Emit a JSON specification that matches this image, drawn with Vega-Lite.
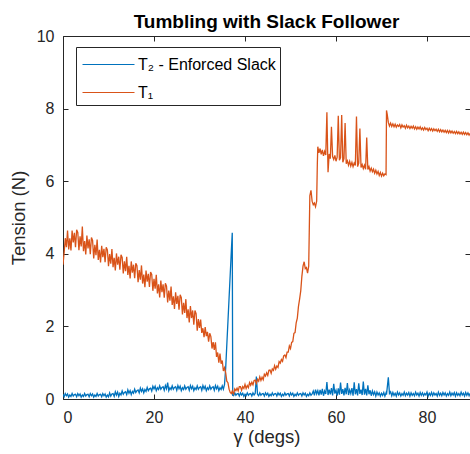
{
"$schema": "https://vega.github.io/schema/vega-lite/v6.json",
"width": 407,
"height": 363,
"autosize": {"type": "none"},
"padding": {"left": 63, "top": 36, "right": 0, "bottom": 55},
"background": "white",
"title": {"text": "Tumbling with Slack Follower", "fontSize": 19, "fontWeight": "bold", "color": "#000000", "font": "Liberation Sans", "anchor": "middle", "baseline": "bottom", "offset": -23, "frame": "group"},
"config": {
  "view": {"stroke": null},
  "font": "Liberation Sans",
  "axis": {"grid": false, "domainColor": "#262626", "tickColor": "#262626", "labelColor": "#262626", "titleColor": "#262626", "labelFontSize": 16, "titleFontSize": 18.5, "titleFontWeight": "normal", "tickSize": -5, "domainWidth": 1, "tickWidth": 1, "labelFont": "Liberation Sans", "titleFont": "Liberation Sans"}
},
"data": {"values": [
{"x":0,"b":0.13,"o":3.7},{"x":0.25,"b":0.06,"o":4.03},{"x":0.5,"b":0.15,"o":4.43},{"x":0.75,"b":0.09,"o":4.18},
{"x":1,"b":0.14,"o":4.64},{"x":1.25,"b":0.05,"o":4.12},{"x":1.5,"b":0.11,"o":4.43},{"x":1.75,"b":0.07,"o":4.09},
{"x":2,"b":0.15,"o":4.64},{"x":2.25,"b":0.08,"o":4.31},{"x":2.5,"b":0.12,"o":4.58},{"x":2.75,"b":0.13,"o":4.18},
{"x":3,"b":0.06,"o":4.66},{"x":3.25,"b":0.15,"o":4.59},{"x":3.5,"b":0.09,"o":4.1},{"x":3.75,"b":0.14,"o":4.48},
{"x":4,"b":0.05,"o":4.2},{"x":4.25,"b":0.11,"o":4.75},{"x":4.5,"b":0.07,"o":4.07},{"x":4.75,"b":0.15,"o":4.35},
{"x":5,"b":0.08,"o":3.98},{"x":5.25,"b":0.12,"o":4.5},{"x":5.5,"b":0.13,"o":4.15},{"x":5.75,"b":0.06,"o":4.4},
{"x":6,"b":0.15,"o":3.99},{"x":6.25,"b":0.09,"o":4.45},{"x":6.5,"b":0.14,"o":4.37},{"x":6.75,"b":0.05,"o":3.87},
{"x":7,"b":0.11,"o":4.25},{"x":7.25,"b":0.07,"o":3.96},{"x":7.5,"b":0.15,"o":4.39},{"x":7.75,"b":0.08,"o":3.83},
{"x":8,"b":0.12,"o":4.11},{"x":8.25,"b":0.13,"o":3.76},{"x":8.5,"b":0.06,"o":4.22},{"x":8.75,"b":0.15,"o":3.91},
{"x":9,"b":0.09,"o":4.14},{"x":9.25,"b":0.14,"o":3.77},{"x":9.5,"b":0.05,"o":4.18},{"x":9.75,"b":0.11,"o":4.11},
{"x":10,"b":0.06,"o":3.66},{"x":10.25,"b":0.17,"o":3.99},{"x":10.5,"b":0.08,"o":3.73},{"x":10.75,"b":0.14,"o":4.13},
{"x":11,"b":0.15,"o":3.63},{"x":11.25,"b":0.07,"o":3.89},{"x":11.5,"b":0.2,"o":3.54},{"x":11.75,"b":0.11,"o":4.01},
{"x":12,"b":0.19,"o":3.7},{"x":12.25,"b":0.07,"o":3.92},{"x":12.5,"b":0.16,"o":3.56},{"x":12.75,"b":0.11,"o":3.97},
{"x":13,"b":0.22,"o":3.9},{"x":13.25,"b":0.13,"o":3.46},{"x":13.5,"b":0.18,"o":3.79},{"x":13.75,"b":0.2,"o":3.52},
{"x":14,"b":0.12,"o":3.92},{"x":14.25,"b":0.25,"o":3.42},{"x":14.5,"b":0.16,"o":3.67},{"x":14.75,"b":0.23,"o":3.32},
{"x":15,"b":0.12,"o":3.79},{"x":15.25,"b":0.21,"o":3.48},{"x":15.5,"b":0.16,"o":3.7},{"x":15.75,"b":0.27,"o":3.33},
{"x":16,"b":0.18,"o":3.74},{"x":16.25,"b":0.23,"o":3.67},{"x":16.5,"b":0.25,"o":3.22},{"x":16.75,"b":0.17,"o":3.55},
{"x":17,"b":0.3,"o":3.29},{"x":17.25,"b":0.21,"o":3.68},{"x":17.5,"b":0.28,"o":3.18},{"x":17.75,"b":0.17,"o":3.43},
{"x":18,"b":0.26,"o":3.08},{"x":18.25,"b":0.21,"o":3.54},{"x":18.5,"b":0.32,"o":3.23},{"x":18.75,"b":0.23,"o":3.45},
{"x":19,"b":0.28,"o":3.09},{"x":19.25,"b":0.3,"o":3.5},{"x":19.5,"b":0.22,"o":3.43},{"x":19.75,"b":0.35,"o":2.98},
{"x":20,"b":0.28,"o":3.31},{"x":20.25,"b":0.35,"o":3.04},{"x":20.5,"b":0.23,"o":3.42},{"x":20.75,"b":0.31,"o":2.91},
{"x":21,"b":0.26,"o":3.16},{"x":21.25,"b":0.36,"o":2.8},{"x":21.5,"b":0.27,"o":3.26},{"x":21.75,"b":0.32,"o":2.94},
{"x":22,"b":0.34,"o":3.16},{"x":22.25,"b":0.24,"o":2.79},{"x":22.5,"b":0.37,"o":3.19},{"x":22.75,"b":0.28,"o":3.11},
{"x":23,"b":0.45,"o":2.66},{"x":23.25,"b":0.23,"o":2.99},{"x":23.5,"b":0.31,"o":2.71},{"x":23.75,"b":0.26,"o":3.1},
{"x":24,"b":0.36,"o":2.59},{"x":24.25,"b":0.27,"o":2.83},{"x":24.5,"b":0.32,"o":2.48},{"x":24.75,"b":0.34,"o":2.94},
{"x":25,"b":0.24,"o":2.62},{"x":25.25,"b":0.37,"o":2.84},{"x":25.5,"b":0.28,"o":2.46},{"x":25.75,"b":0.35,"o":2.87},
{"x":26,"b":0.23,"o":2.79},{"x":26.25,"b":0.31,"o":2.33},{"x":26.5,"b":0.26,"o":2.65},{"x":26.75,"b":0.36,"o":2.37},
{"x":27,"b":0.27,"o":2.75},{"x":27.25,"b":0.32,"o":2.23},{"x":27.5,"b":0.34,"o":2.47},{"x":27.75,"b":0.24,"o":2.11},
{"x":28,"b":0.37,"o":2.56},{"x":28.25,"b":0.28,"o":2.23},{"x":28.5,"b":0.35,"o":2.44},{"x":28.75,"b":0.23,"o":2.05},
{"x":29,"b":0.31,"o":2.44},{"x":29.25,"b":0.26,"o":2.35},{"x":29.5,"b":0.36,"o":1.88},{"x":29.75,"b":0.27,"o":2.2},
{"x":30,"b":0.32,"o":1.96},{"x":30.25,"b":0.34,"o":2.19},{"x":30.5,"b":0.24,"o":1.82},{"x":30.75,"b":0.37,"o":1.95},
{"x":31,"b":0.28,"o":1.7},{"x":31.25,"b":0.35,"o":1.98},{"x":31.5,"b":0.23,"o":1.73},{"x":31.75,"b":0.31,"o":1.85},
{"x":32,"b":0.26,"o":1.58},{"x":32.25,"b":0.36,"o":1.81},{"x":32.5,"b":0.27,"o":1.72},{"x":32.75,"b":0.32,"o":1.39},
{"x":33,"b":0.34,"o":1.57},{"x":33.25,"b":0.24,"o":1.35},{"x":33.5,"b":0.37,"o":1.56},{"x":33.75,"b":0.28,"o":1.16},
{"x":34,"b":0.35,"o":1.28},{"x":34.25,"b":0.23,"o":1.0},{"x":34.5,"b":0.31,"o":1.25},{"x":34.75,"b":0.26,"o":0.97},
{"x":35,"b":0.36,"o":1.06},{"x":35.25,"b":0.27,"o":0.77},{"x":35.5,"b":0.4,"o":0.86},{"x":35.75,"b":0.84,"o":0.73},
{"x":36,"b":1.49,"o":0.49},{"x":36.25,"b":2.13,"o":0.45},{"x":36.5,"b":2.78,"o":0.27},{"x":36.75,"b":3.43,"o":0.18},
{"x":37,"b":4.08,"o":0.15},{"x":37.2,"b":4.58,"o":0.22},{"x":37.3,"b":0.1,"o":0.18},
{"x":37.5,"b":0.09,"o":0.14},{"x":37.75,"b":0.17,"o":0.28},{"x":38,"b":0.1,"o":0.23},{"x":38.25,"b":0.14,"o":0.3},
{"x":38.5,"b":0.15,"o":0.22},{"x":38.75,"b":0.08,"o":0.34},{"x":39,"b":0.17,"o":0.34},{"x":39.25,"b":0.11,"o":0.24},
{"x":39.5,"b":0.16,"o":0.34},{"x":39.75,"b":0.07,"o":0.29},{"x":40,"b":0.13,"o":0.4},{"x":40.25,"b":0.09,"o":0.29},
{"x":40.5,"b":0.17,"o":0.37},{"x":40.75,"b":0.1,"o":0.31},{"x":41,"b":0.14,"o":0.45},{"x":41.25,"b":0.15,"o":0.38},
{"x":41.5,"b":0.08,"o":0.46},{"x":41.75,"b":0.17,"o":0.39},{"x":42,"b":0.11,"o":0.51},{"x":42.25,"b":0.16,"o":0.52},
{"x":42.5,"b":0.62,"o":0.43},{"x":42.75,"b":0.13,"o":0.54},{"x":43,"b":0.09,"o":0.49},{"x":43.25,"b":0.17,"o":0.61},
{"x":43.5,"b":0.1,"o":0.51},{"x":43.75,"b":0.14,"o":0.6},{"x":44,"b":0.15,"o":0.53},{"x":44.25,"b":0.08,"o":0.68},
{"x":44.5,"b":0.17,"o":0.63},{"x":44.75,"b":0.11,"o":0.72},{"x":45,"b":0.16,"o":0.65},{"x":45.25,"b":0.07,"o":0.79},
{"x":45.5,"b":0.13,"o":0.8},{"x":45.75,"b":0.09,"o":0.71},{"x":46,"b":0.17,"o":0.83},{"x":46.25,"b":0.1,"o":0.79},
{"x":46.5,"b":0.14,"o":0.92},{"x":46.75,"b":0.15,"o":0.82},{"x":47,"b":0.08,"o":0.91},{"x":47.25,"b":0.17,"o":0.87},
{"x":47.5,"b":0.11,"o":1.03},{"x":47.75,"b":0.16,"o":0.99},{"x":48,"b":0.07,"o":1.09},{"x":48.25,"b":0.13,"o":1.04},
{"x":48.5,"b":0.09,"o":1.19},{"x":48.75,"b":0.17,"o":1.21},{"x":49,"b":0.1,"o":1.14},{"x":49.25,"b":0.14,"o":1.29},
{"x":49.5,"b":0.15,"o":1.29},{"x":49.75,"b":0.08,"o":1.46},{"x":50,"b":0.17,"o":1.39},{"x":50.25,"b":0.11,"o":1.56},
{"x":50.5,"b":0.16,"o":1.58},{"x":50.75,"b":0.07,"o":1.81},{"x":51,"b":0.13,"o":1.83},{"x":51.25,"b":0.09,"o":2.1},
{"x":51.5,"b":0.17,"o":2.23},{"x":51.75,"b":0.1,"o":2.55},{"x":52,"b":0.14,"o":2.75},{"x":52.25,"b":0.15,"o":2.98},
{"x":52.5,"b":0.08,"o":3.38},{"x":52.75,"b":0.17,"o":3.66},{"x":53,"b":0.11,"o":3.78},{"x":53.25,"b":0.16,"o":3.59},
{"x":53.5,"b":0.07,"o":3.62},{"x":53.75,"b":0.13,"o":3.47},{"x":54,"b":0.09,"o":3.66},{"x":54.25,"b":0.17,"o":5.6},
{"x":54.5,"b":0.1,"o":5.75},{"x":54.75,"b":0.14,"o":5.45},{"x":55,"b":0.22,"o":5.35},{"x":55.25,"b":0.1,"o":5.4},
{"x":55.5,"b":0.26,"o":5.3},{"x":55.75,"b":0.14,"o":5.45},{"x":55.9,"b":0.2,"o":6.5},{"x":56,"b":0.23,"o":6.95},
{"x":56.25,"b":0.1,"o":6.78},{"x":56.5,"b":0.25,"o":6.9},{"x":56.75,"b":0.12,"o":6.74},{"x":57,"b":0.28,"o":6.86},
{"x":57.25,"b":0.09,"o":6.7},{"x":57.5,"b":0.22,"o":6.82},{"x":57.75,"b":0.14,"o":6.72},{"x":58,"b":0.47,"o":7.9},
{"x":58.25,"b":0.11,"o":6.25},{"x":58.5,"b":0.26,"o":6.75},{"x":58.75,"b":0.13,"o":6.62},{"x":59,"b":0.3,"o":7.5},
{"x":59.25,"b":0.1,"o":6.68},{"x":59.5,"b":0.42,"o":6.6},{"x":59.75,"b":0.15,"o":6.71},{"x":60,"b":0.24,"o":6.55},
{"x":60.25,"b":0.09,"o":6.66},{"x":60.5,"b":0.29,"o":7.8},{"x":60.75,"b":0.12,"o":6.58},{"x":61,"b":0.45,"o":6.65},
{"x":61.25,"b":0.14,"o":7.82},{"x":61.5,"b":0.27,"o":6.52},{"x":61.75,"b":0.1,"o":6.62},{"x":62,"b":0.31,"o":7.6},
{"x":62.25,"b":0.13,"o":6.48},{"x":62.5,"b":0.44,"o":6.56},{"x":62.75,"b":0.11,"o":6.44},{"x":63,"b":0.25,"o":6.55},
{"x":63.25,"b":0.15,"o":6.42},{"x":63.5,"b":0.3,"o":6.52},{"x":63.75,"b":0.09,"o":6.4},{"x":64,"b":0.46,"o":6.5},
{"x":64.25,"b":0.13,"o":6.43},{"x":64.5,"b":0.27,"o":7.78},{"x":64.75,"b":0.1,"o":6.4},{"x":65,"b":0.43,"o":6.5},
{"x":65.25,"b":0.14,"o":7.45},{"x":65.5,"b":0.26,"o":6.38},{"x":65.75,"b":0.11,"o":6.46},{"x":66,"b":0.48,"o":6.35},
{"x":66.25,"b":0.12,"o":6.44},{"x":66.5,"b":0.28,"o":6.33},{"x":66.75,"b":0.1,"o":7.2},{"x":67,"b":0.38,"o":6.32},
{"x":67.25,"b":0.13,"o":6.4},{"x":67.5,"b":0.24,"o":6.28},{"x":67.75,"b":0.09,"o":6.36},{"x":68,"b":0.22,"o":6.26},
{"x":68.25,"b":0.12,"o":6.33},{"x":68.5,"b":0.2,"o":6.22},{"x":68.75,"b":0.08,"o":6.3},{"x":69,"b":0.19,"o":6.2},
{"x":69.25,"b":0.11,"o":6.27},{"x":69.5,"b":0.17,"o":6.16},{"x":69.75,"b":0.08,"o":6.24},{"x":70,"b":0.16,"o":6.14},
{"x":70.25,"b":0.1,"o":6.22},{"x":70.5,"b":0.18,"o":6.15},{"x":70.75,"b":0.08,"o":6.2},{"x":71,"b":0.17,"o":6.18},
{"x":71.1,"b":0.12,"o":7.95},{"x":71.25,"b":0.3,"o":7.85},{"x":71.5,"b":0.6,"o":7.62},{"x":71.75,"b":0.15,"o":7.52},
{"x":72,"b":0.2,"o":7.6},{"x":72.25,"b":0.09,"o":7.51},{"x":72.5,"b":0.18,"o":7.58},{"x":72.75,"b":0.1,"o":7.5},
{"x":73,"b":0.16,"o":7.57},{"x":73.25,"b":0.08,"o":7.49},{"x":73.5,"b":0.19,"o":7.55},{"x":73.75,"b":0.11,"o":7.51},
{"x":74,"b":0.17,"o":7.56},{"x":74.25,"b":0.08,"o":7.47},{"x":74.5,"b":0.15,"o":7.55},{"x":74.75,"b":0.1,"o":7.49},
{"x":75,"b":0.19,"o":7.53},{"x":75.25,"b":0.09,"o":7.46},{"x":75.5,"b":0.16,"o":7.54},{"x":75.75,"b":0.11,"o":7.47},
{"x":76,"b":0.18,"o":7.52},{"x":76.25,"b":0.08,"o":7.45},{"x":76.5,"b":0.17,"o":7.51},{"x":76.75,"b":0.1,"o":7.46},
{"x":77,"b":0.15,"o":7.52},{"x":77.25,"b":0.09,"o":7.44},{"x":77.5,"b":0.19,"o":7.5},{"x":77.75,"b":0.11,"o":7.43},
{"x":78,"b":0.16,"o":7.49},{"x":78.25,"b":0.08,"o":7.44},{"x":78.5,"b":0.18,"o":7.5},{"x":78.75,"b":0.1,"o":7.42},
{"x":79,"b":0.17,"o":7.47},{"x":79.25,"b":0.09,"o":7.41},{"x":79.5,"b":0.15,"o":7.48},{"x":79.75,"b":0.11,"o":7.42},
{"x":80,"b":0.19,"o":7.46},{"x":80.25,"b":0.08,"o":7.39},{"x":80.5,"b":0.16,"o":7.46},{"x":80.75,"b":0.1,"o":7.4},
{"x":81,"b":0.18,"o":7.45},{"x":81.25,"b":0.09,"o":7.38},{"x":81.5,"b":0.17,"o":7.44},{"x":81.75,"b":0.11,"o":7.39},
{"x":82,"b":0.15,"o":7.43},{"x":82.25,"b":0.08,"o":7.37},{"x":82.5,"b":0.19,"o":7.43},{"x":82.75,"b":0.1,"o":7.36},
{"x":83,"b":0.16,"o":7.42},{"x":83.25,"b":0.09,"o":7.36},{"x":83.5,"b":0.18,"o":7.41},{"x":83.75,"b":0.11,"o":7.35},
{"x":84,"b":0.17,"o":7.4},{"x":84.25,"b":0.08,"o":7.34},{"x":84.5,"b":0.15,"o":7.4},{"x":84.75,"b":0.1,"o":7.33},
{"x":85,"b":0.19,"o":7.39},{"x":85.25,"b":0.09,"o":7.33},{"x":85.5,"b":0.16,"o":7.38},{"x":85.75,"b":0.11,"o":7.32},
{"x":86,"b":0.18,"o":7.37},{"x":86.25,"b":0.08,"o":7.31},{"x":86.5,"b":0.17,"o":7.37},{"x":86.75,"b":0.1,"o":7.31},
{"x":87,"b":0.15,"o":7.36},{"x":87.25,"b":0.09,"o":7.3},{"x":87.5,"b":0.19,"o":7.35},{"x":87.75,"b":0.11,"o":7.29},
{"x":88,"b":0.16,"o":7.35},{"x":88.25,"b":0.08,"o":7.29},{"x":88.5,"b":0.18,"o":7.34},{"x":88.75,"b":0.1,"o":7.28},
{"x":89,"b":0.17,"o":7.33},{"x":89.25,"b":0.09,"o":7.27},{"x":89.5,"b":0.16,"o":7.32}
]},
"layer": [
  {
    "transform": [{"fold": ["b", "o"], "as": ["s", "v"]}],
    "mark": {"type": "line", "strokeWidth": 1.3, "clip": true},
    "encoding": {
      "x": {"field": "x", "type": "quantitative", "scale": {"domain": [0, 89.45], "nice": false, "zero": false},
            "axis": {"orient": "bottom", "values": [0, 20, 40, 60, 80], "title": "γ (degs)", "labelPadding": 15, "titlePadding": 2}},
      "y": {"field": "v", "type": "quantitative", "scale": {"domain": [0, 10], "nice": false},
            "axis": {"orient": "left", "values": [0, 2, 4, 6, 8, 10], "title": "Tension (N)", "labelPadding": 14, "titlePadding": 8}},
      "color": {"field": "s", "type": "nominal",
                "scale": {"domain": ["b", "o"], "range": ["#0072BD", "#D95319"]},
                "legend": {"orient": "none", "legendX": 13, "legendY": 11, "title": null, "symbolType": "M-2,0H2", "symbolSize": 676, "symbolStrokeWidth": 1, "symbolOffset": 15, "labelFontSize": 16, "labelColor": "#000000", "strokeColor": "#262626", "fillColor": "white", "padding": 4, "labelOffset": 16, "rowPadding": 6,
                           "labelExpr": "datum.value == 'b' ? 'T₂ - Enforced Slack' : 'T₁'",
                           "encode": {"symbols": {"update": {"stroke": {"scale": "color", "field": "value"}, "fill": {"value": "transparent"}}}}}}
    }
  },
  {
    "mark": {"type": "line", "strokeOpacity": 0, "clip": true},
    "encoding": {
      "x": {"field": "x", "type": "quantitative", "axis": {"orient": "top", "values": [0, 20, 40, 60, 80], "labels": false, "title": null, "minExtent": 0, "maxExtent": 0}},
      "y": {"field": "o", "type": "quantitative", "axis": {"orient": "right", "values": [0, 2, 4, 6, 8, 10], "labels": false, "title": null, "minExtent": 0, "maxExtent": 0}}
    }
  }
],
"resolve": {"axis": {"x": "independent", "y": "independent"}}
}
